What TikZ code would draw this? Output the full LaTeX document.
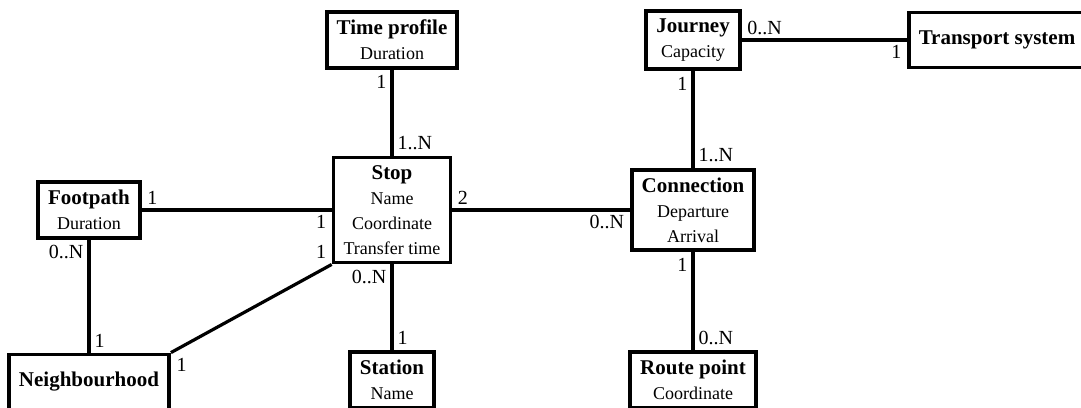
\documentclass[tikz,border=0pt]{standalone}
\usepackage{fontspec}
\setmainfont{Liberation Serif}
\usepackage{tikz}
\newcommand\ename[1]{{\fontsize{21}{25}\selectfont\bfseries #1}}
\tikzstyle{every edge} = [draw,line width=3.2pt]
\tikzstyle{entity} = [draw,rectangle,line width=3.8pt,minimum height=55pt,inner xsep=10pt,inner ysep=8pt,align=center,font=\fontsize{18}{25}\selectfont]
\tikzstyle{mult} = [font=\fontsize{20}{24}\selectfont,inner sep=4pt]

\begin{document}
\begin{tikzpicture}[x=1pt,y=-1pt]
\useasboundingbox (0,0) rectangle (1081,407);

\node[entity] (e1) at (392,210) {\ename{Stop}\\Name\\Coordinate\\Transfer time};
\node[entity] (e2) at (392,40) {\ename{Time profile}\\Duration};
\node[entity] (e3) at (89,210) {\ename{Footpath}\\Duration};
\node[entity] (e4) at (89,382) {\ename{Neighbourhood}};
\node[entity] (e5) at (392,380) {\ename{Station}\\Name};
\node[entity] (e6) at (693,210) {\ename{Connection}\\Departure\\Arrival};
\node[entity] (e7) at (693,40) {\ename{Journey}\\Capacity};
\node[entity] (e8) at (997,40) {\ename{Transport system}};
\node[entity] (e9) at (693,380) {\ename{Route point}\\Coordinate};

\draw (e2) edge node[mult,at start,below left] {1} node[mult,at end,above right] {1..N} (e1);
\draw (e3) edge node[mult,at start,above right] {1} node[mult,at end,below left] {1} (e1);
\draw (e3) edge node[mult,at start,below left] {0..N} node[mult,at end,above right] {1} (e4);
\draw (e1.south west) edge node[mult,at start,above left] {1} node[mult,at end,below right] {1} (e4.north east);
\draw (e1) edge node[mult,at start,below left] {0..N} node[mult,at end,above right] {1} (e5);
\draw (e1) edge node[mult,at start,above right] {2} node[mult,at end,below left] {0..N} (e6);
\draw (e7) edge node[mult,at start,below left] {1} node[mult,at end,above right] {1..N} (e6);
\draw (e7) edge node[mult,at start,above right] {0..N} node[mult,at end,below left] {1} (e8);
\draw (e6) edge node[mult,at start,below left] {1} node[mult,at end,above right] {0..N} (e9);

\end{tikzpicture}
\end{document}
